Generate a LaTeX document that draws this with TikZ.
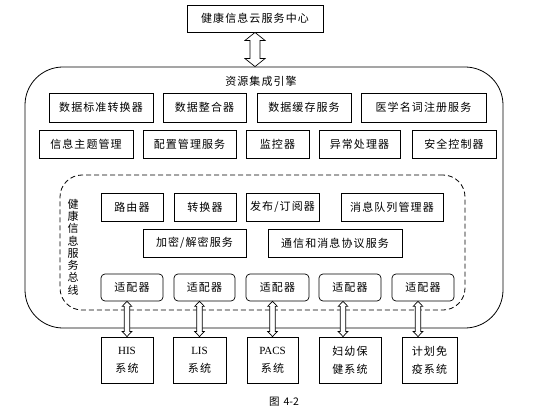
\documentclass[tikz,border=0pt]{standalone}
\usepackage{fontspec}
\setmainfont{Liberation Serif}
\newfontfamily\cjk[LetterSpace=10]{Noto Sans CJK SC}
\newfontfamily\cjkcap{Noto Sans CJK SC}
\usetikzlibrary{calc}
\newcommand\hollowarrow[5]{%
  \draw[harrow] (#1) -- ++(#4,#5) -- ++({-#4+#3},0) -- ($(#2)+(#3,-#5)$) -- ++({#4-#3},0) -- (#2)
    -- ++(-#4,-#5) -- ++({#4-#3},0) -- ($(#1)+(-#3,#5)$) -- ++({#3-#4},0) -- cycle;}
\begin{document}
\begin{tikzpicture}[x=1pt,y=-1pt,
  box/.style={draw, line width=0.9pt, inner sep=0pt, font=\cjk\fontsize{11}{13}\selectfont},
  adbox/.style={box, rounded corners=4pt, line width=0.7pt},
  sysbox/.style={box, align=center, font=\cjk\fontsize{11}{18}\selectfont},
  harrow/.style={draw, fill=white, line width=0.7pt, line join=miter},
  plain/.style={inner sep=0pt, font=\cjk\fontsize{11}{12.3}\selectfont}]
\useasboundingbox (0,0) rectangle (534,411);

% top
\node[box, minimum width=136pt, minimum height=27pt] (cloud) at (255,18.5) {健康信息云服务中心};

% outer engine frame
\node[draw, line width=0.8pt, rounded corners=38pt, minimum width=478pt, minimum height=261pt, inner sep=0pt] (engine) at (264,197.5) {};
\node[plain] (enginetitle) at (261,81) {资源集成引擎};

% row 1
\node[box, minimum width=104pt, minimum height=29pt] (n1) at (101,107.5) {数据标准转换器};
\node[box, minimum width=83pt, minimum height=29pt] (n2) at (204.5,107.5) {数据整合器};
\node[box, minimum width=94pt, minimum height=29pt] (n3) at (304,107.5) {数据缓存服务};
\node[box, minimum width=125pt, minimum height=29pt] (n4) at (423.5,107.5) {医学名词注册服务};
% row 2
\node[box, minimum width=94pt, minimum height=28pt] (m1) at (86,144) {信息主题管理};
\node[box, minimum width=93pt, minimum height=28pt] (m2) at (189.5,144) {配置管理服务};
\node[box, minimum width=63pt, minimum height=28pt] (m3) at (277.5,144) {监控器};
\node[box, minimum width=81pt, minimum height=28pt] (m4) at (359.5,144) {异常处理器};
\node[box, minimum width=84pt, minimum height=28pt] (m5) at (454,144) {安全控制器};

% bus frame
\node[draw, dashed, dash pattern=on 5pt off 3pt, line width=0.8pt, rounded corners=22pt, minimum width=405pt, minimum height=135pt, inner sep=0pt] (bus) at (262.5,242.5) {};
\node[plain, align=center] (buslabel) at (73,247) {健\\康\\信\\息\\服\\务\\总\\线};

% bus rows
\node[box, minimum width=62pt, minimum height=28pt] (b1) at (132,207) {路由器};
\node[box, minimum width=62pt, minimum height=28pt] (b2) at (205,207) {转换器};
\node[box, minimum width=73pt, minimum height=28pt] (b3) at (282.5,207) {发布/订阅器};
\node[box, minimum width=102pt, minimum height=28pt] (b4) at (392,207) {消息队列管理器};
\node[box, minimum width=103pt, minimum height=28pt] (b5) at (194.5,243) {加密/解密服务};
\node[box, minimum width=134pt, minimum height=28pt] (b6) at (335,243) {通信和消息协议服务};

% adapters
\node[adbox, minimum width=62pt, minimum height=27pt] (a1) at (132,287.5) {适配器};
\node[adbox, minimum width=61pt, minimum height=27pt] (a2) at (204.5,287.5) {适配器};
\node[adbox, minimum width=63pt, minimum height=27pt] (a3) at (277.5,287.5) {适配器};
\node[adbox, minimum width=62pt, minimum height=27pt] (a4) at (350,287.5) {适配器};
\node[adbox, minimum width=62pt, minimum height=27pt] (a5) at (423,287.5) {适配器};

% systems
\node[sysbox, minimum width=52pt, minimum height=46pt] (s1) at (127,360) {{\rmfamily HIS}\\系统};
\node[sysbox, minimum width=53pt, minimum height=46pt] (s2) at (199.5,360) {{\rmfamily LIS}\\系统};
\node[sysbox, minimum width=51pt, minimum height=46pt] (s3) at (272.5,360) {{\rmfamily PACS}\\系统};
\node[sysbox, minimum width=62pt, minimum height=46pt] (s4) at (350,360) {妇幼保\\健系统};
\node[sysbox, minimum width=55pt, minimum height=46pt] (s5) at (429.5,360) {计划免\\疫系统};

% caption
\node[inner sep=0pt, font=\cjkcap\fontsize{10.5}{12}\selectfont] (caption) at (284,402) {图\hspace{4pt}4-2};

% arrows
\coordinate (c1) at ($(engine.north)+(-9,0)$);
\hollowarrow{cloud.south}{c1}{5}{10}{8}
\coordinate (t1) at (a1.south -| s1.north);
\hollowarrow{t1}{s1.north}{2.8}{4.8}{5}
\coordinate (t2) at (a2.south -| s2.north);
\hollowarrow{t2}{s2.north}{2.8}{4.8}{5}
\coordinate (t3) at (a3.south -| s3.north);
\hollowarrow{t3}{s3.north}{2.8}{4.8}{5}
\coordinate (t4) at ($(a4.south)+(-7,0)$);
\coordinate (u4) at ($(s4.north)+(-7,0)$);
\hollowarrow{t4}{u4}{2.8}{4.8}{5}
\coordinate (t5) at ($(a5.south)+(-5,0)$);
\coordinate (u5) at ($(s5.north)+(-11.5,0)$);
\hollowarrow{t5}{u5}{2.8}{4.8}{5}
\end{tikzpicture}
\end{document}
